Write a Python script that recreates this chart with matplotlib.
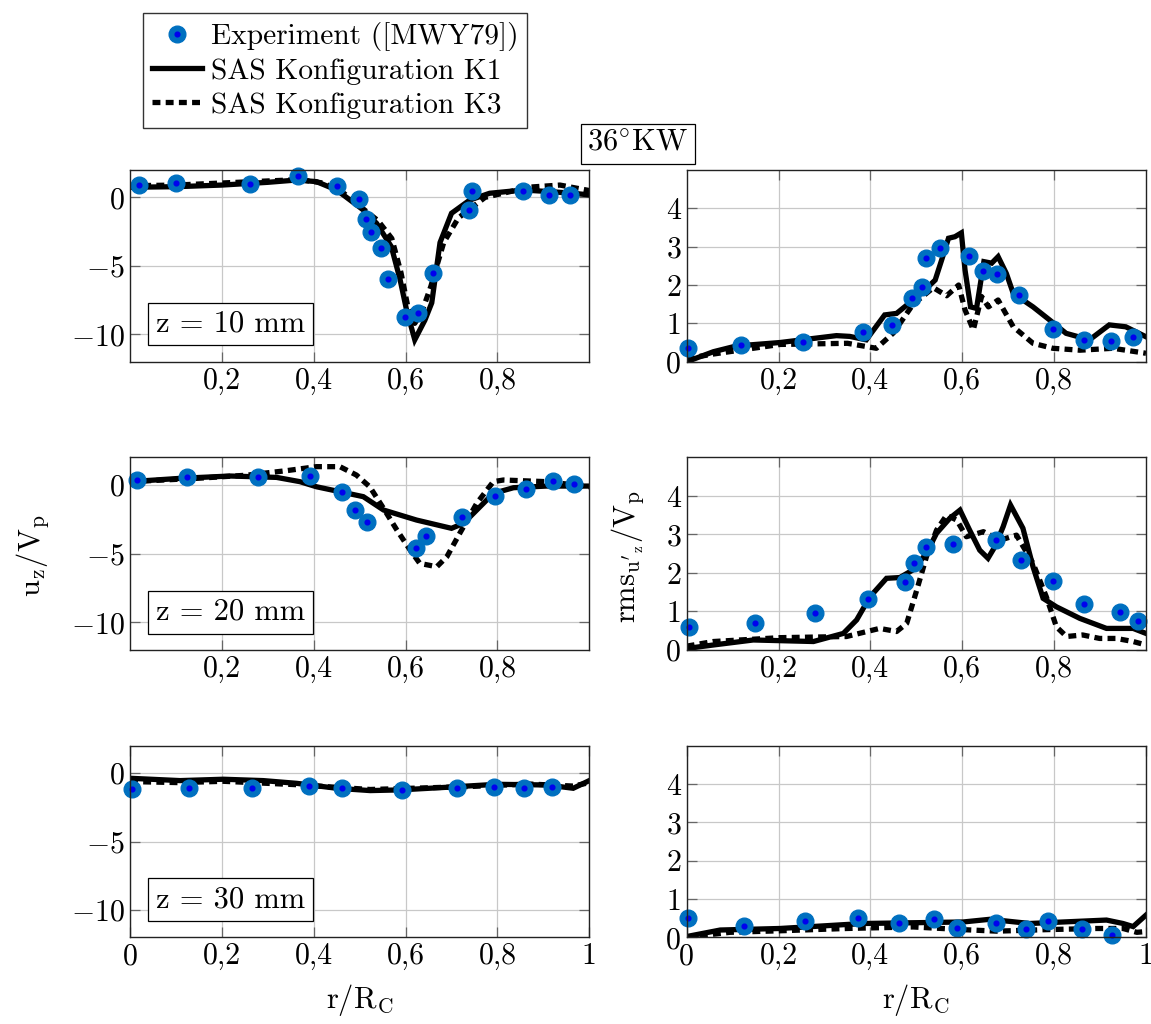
import matplotlib

matplotlib.use("Agg")
import matplotlib.pyplot as plt
from matplotlib.lines import Line2D

plt.rcParams["font.family"] = "serif"
plt.rcParams["font.serif"] = ["cmr10", "DejaVu Serif"]
plt.rcParams["mathtext.fontset"] = "cm"
plt.rcParams["axes.formatter.use_mathtext"] = True
plt.rcParams["font.size"] = 21

# ---- data ----
# z = 10 mm, axial velocity
exp_u10_r = [0.02, 0.10, 0.262, 0.365, 0.451, 0.499, 0.514, 0.524, 0.546, 0.561, 0.599, 0.626, 0.659, 0.739, 0.744, 0.855, 0.913, 0.958]
exp_u10 = [0.9, 1.03, 0.95, 1.56, 0.86, -0.12, -1.55, -2.55, -3.67, -5.96, -8.71, -8.42, -5.55, -0.92, 0.47, 0.47, 0.18, 0.18]
k1_u10_r = [0.0, 0.10, 0.2, 0.3, 0.363, 0.406, 0.45, 0.508, 0.537, 0.569, 0.588, 0.602, 0.620, 0.642, 0.657, 0.675, 0.70, 0.74, 0.783, 0.856, 0.914, 0.965, 1.0]
k1_u10 = [0.74, 0.78, 0.9, 1.1, 1.27, 1.15, 0.54, -0.92, -1.9, -3.6, -6.0, -8.2, -10.4, -8.97, -7.7, -3.3, -1.16, -0.19, 0.3, 0.54, 0.42, 0.3, 0.18]
k3_u10_r = [0.0, 0.10, 0.2, 0.3, 0.37, 0.42, 0.46, 0.51, 0.54, 0.57, 0.59, 0.605, 0.62, 0.635, 0.655, 0.683, 0.715, 0.773, 0.87, 0.936, 1.0]
k3_u10 = [0.85, 0.9, 1.05, 1.2, 1.3, 1.05, 0.45, -0.9, -1.7, -3.0, -5.5, -8.0, -9.2, -8.4, -6.5, -3.3, -1.5, 0.0, 0.75, 0.9, 0.5]

# z = 10 mm, rms
exp_r10_r = [0.003, 0.118, 0.254, 0.383, 0.448, 0.491, 0.513, 0.521, 0.552, 0.614, 0.646, 0.675, 0.723, 0.797, 0.864, 0.924, 0.972]
exp_r10 = [0.37, 0.43, 0.52, 0.77, 0.97, 1.67, 1.94, 2.70, 2.96, 2.76, 2.37, 2.29, 1.74, 0.85, 0.57, 0.54, 0.65]
k1_r10_r = [0.0, 0.058, 0.108, 0.203, 0.326, 0.355, 0.391, 0.431, 0.457, 0.493, 0.515, 0.541, 0.555, 0.57, 0.584, 0.598, 0.606, 0.618, 0.631, 0.647, 0.664, 0.678, 0.696, 0.711, 0.754, 0.790, 0.826, 0.877, 0.92, 0.956, 1.0]
k1_r10 = [0.0, 0.26, 0.41, 0.5, 0.68, 0.66, 0.57, 1.22, 1.26, 1.61, 1.83, 2.13, 2.65, 3.22, 3.26, 3.36, 2.39, 1.43, 1.39, 2.61, 2.57, 2.74, 2.30, 1.78, 1.43, 1.09, 0.74, 0.57, 0.96, 0.91, 0.65]
k3_r10_r = [0.0, 0.058, 0.203, 0.35, 0.413, 0.45, 0.493, 0.537, 0.566, 0.592, 0.606, 0.624, 0.642, 0.657, 0.678, 0.711, 0.754, 0.797, 0.856, 0.928, 1.0]
k3_r10 = [0.08, 0.2, 0.45, 0.48, 0.35, 0.75, 1.5, 1.93, 1.72, 2.0, 1.35, 0.83, 1.7, 1.43, 1.61, 0.91, 0.48, 0.35, 0.3, 0.35, 0.22]

# z = 20 mm, axial velocity
exp_u20_r = [0.016, 0.125, 0.278, 0.392, 0.462, 0.490, 0.515, 0.622, 0.644, 0.723, 0.795, 0.863, 0.92, 0.967]
exp_u20 = [0.35, 0.59, 0.54, 0.64, -0.55, -1.83, -2.68, -4.62, -3.72, -2.32, -0.79, -0.31, 0.28, 0.03]
k1_u20_r = [0.0, 0.109, 0.218, 0.319, 0.37, 0.406, 0.508, 0.552, 0.624, 0.70, 0.726, 0.755, 0.791, 0.835, 0.907, 1.0]
k1_u20 = [0.23, 0.47, 0.64, 0.54, 0.23, -0.14, -0.86, -1.83, -2.56, -3.16, -2.8, -1.83, -0.62, -0.21, -0.09, -0.09]
k3_u20_r = [0.0, 0.145, 0.254, 0.341, 0.406, 0.457, 0.493, 0.522, 0.552, 0.581, 0.61, 0.631, 0.668, 0.69, 0.718, 0.755, 0.791, 0.813, 0.907, 1.0]
k3_u20 = [0.23, 0.47, 0.7, 1.03, 1.32, 1.32, 0.71, -0.14, -1.71, -3.28, -4.74, -5.71, -5.95, -5.22, -3.52, -1.34, 0.23, 0.35, 0.23, -0.14]

# z = 20 mm, rms
exp_r20_r = [0.004, 0.149, 0.28, 0.394, 0.475, 0.495, 0.52, 0.58, 0.673, 0.728, 0.797, 0.866, 0.943, 0.983]
exp_r20 = [0.60, 0.69, 0.95, 1.32, 1.77, 2.27, 2.68, 2.74, 2.85, 2.34, 1.80, 1.19, 0.98, 0.76]
k1_r20_r = [0.0, 0.058, 0.145, 0.276, 0.341, 0.37, 0.399, 0.435, 0.464, 0.493, 0.522, 0.544, 0.573, 0.595, 0.616, 0.638, 0.656, 0.671, 0.689, 0.705, 0.732, 0.754, 0.776, 0.805, 0.856, 0.914, 0.972, 1.0]
k1_r20 = [0.04, 0.13, 0.26, 0.22, 0.43, 0.78, 1.38, 1.86, 1.88, 2.08, 2.51, 3.03, 3.42, 3.63, 3.11, 2.59, 2.38, 2.68, 3.20, 3.76, 3.16, 2.16, 1.34, 1.12, 0.82, 0.56, 0.56, 0.43]
k3_r20_r = [0.0, 0.058, 0.203, 0.348, 0.42, 0.457, 0.479, 0.501, 0.522, 0.544, 0.566, 0.588, 0.609, 0.646, 0.682, 0.718, 0.754, 0.783, 0.805, 0.827, 0.862, 0.899, 0.935, 0.972, 1.0]
k3_r20 = [0.1, 0.22, 0.32, 0.35, 0.56, 0.48, 0.69, 1.56, 2.42, 3.11, 3.50, 3.37, 2.94, 3.07, 2.85, 2.98, 2.25, 1.38, 0.60, 0.35, 0.39, 0.30, 0.30, 0.22, 0.13]

# z = 30 mm, axial velocity
exp_u30_r = [0.004, 0.128, 0.265, 0.39, 0.461, 0.592, 0.713, 0.793, 0.858, 0.918]
exp_u30 = [-1.19, -1.07, -1.11, -0.92, -1.07, -1.23, -1.11, -0.99, -1.11, -1.04]
k1_u30_r = [0.0, 0.109, 0.203, 0.29, 0.363, 0.45, 0.523, 0.588, 0.689, 0.798, 0.907, 0.965, 1.0]
k1_u30 = [-0.38, -0.55, -0.45, -0.55, -0.75, -1.11, -1.28, -1.23, -1.04, -0.82, -0.87, -1.11, -0.55]
k3_u30_r = [0.0, 0.109, 0.203, 0.363, 0.523, 0.725, 0.87, 0.965, 1.0]
k3_u30 = [-0.62, -0.7, -0.6, -0.85, -1.2, -1.0, -0.8, -0.95, -0.7]

# z = 30 mm, rms
exp_r30_r = [0.002, 0.125, 0.258, 0.374, 0.462, 0.539, 0.588, 0.673, 0.738, 0.786, 0.86, 0.925]
exp_r30 = [0.51, 0.29, 0.43, 0.50, 0.37, 0.47, 0.25, 0.37, 0.22, 0.42, 0.21, 0.06]
k1_r30_r = [0.0, 0.073, 0.203, 0.384, 0.493, 0.602, 0.66, 0.747, 0.82, 0.914, 0.95, 0.972, 1.0]
k1_r30 = [0.02, 0.19, 0.23, 0.36, 0.38, 0.40, 0.47, 0.36, 0.40, 0.45, 0.36, 0.28, 0.58]
k3_r30_r = [0.0, 0.094, 0.203, 0.348, 0.493, 0.602, 0.675, 0.783, 0.892, 0.95, 0.98, 1.0]
k3_r30 = [0.0, 0.13, 0.17, 0.23, 0.27, 0.2, 0.16, 0.2, 0.23, 0.23, 0.13, 0.15]

z_labels = ["z = 10 mm", "z = 20 mm", "z = 30 mm"]
x_ticks_inner = [0.2, 0.4, 0.6, 0.8]
x_ticks_outer = [0, 0.2, 0.4, 0.6, 0.8, 1.0]
x_labels_outer = ["0", "0,2", "0,4", "0,6", "0,8", "1"]

rows = [
    (exp_u10_r, exp_u10, k1_u10_r, k1_u10, k3_u10_r, k3_u10,
     exp_r10_r, exp_r10, k1_r10_r, k1_r10, k3_r10_r, k3_r10),
    (exp_u20_r, exp_u20, k1_u20_r, k1_u20, k3_u20_r, k3_u20,
     exp_r20_r, exp_r20, k1_r20_r, k1_r20, k3_r20_r, k3_r20),
    (exp_u30_r, exp_u30, k1_u30_r, k1_u30, k3_u30_r, k3_u30,
     exp_r30_r, exp_r30, k1_r30_r, k1_r30, k3_r30_r, k3_r30),
]

OUTER = "#0070c0"
INNER = "#0000ee"
LW = 3.8
DASH = (1.5, 1.0)
FS = 21.5

W, H = 1151, 1024
fig = plt.figure(figsize=(W / 100, H / 100), dpi=100)


def px_axes(x0, y0, x1, y1):
    return fig.add_axes([x0 / W, 1 - y1 / H, (x1 - x0) / W, (y1 - y0) / H])


def style(ax):
    ax.grid(True, color="#c8c8c8", lw=0.9)
    ax.set_axisbelow(True)
    ax.tick_params(direction="in", length=7, width=0.9, color="#666666",
                   top=True, right=True, labelsize=FS, pad=4)
    for s in ax.spines.values():
        s.set_linewidth(1.0)
        s.set_color("#222222")


def draw(ax, er, ev, r1, v1, r3, v3):
    ax.plot(r1, v1, color="black", lw=LW, solid_joinstyle="miter")
    ax.plot(r3, v3, color="black", lw=LW, ls=(0, DASH), dash_capstyle="butt")
    ax.plot(er, ev, ls="none", marker="o", ms=12, mfc=OUTER, mec=OUTER, clip_on=False)
    ax.plot(er, ev, ls="none", marker="o", ms=3.4, mfc=INNER, mec=INNER, clip_on=False)


row_y = [(170, 361.7), (457.3, 650), (745.7, 937.3)]
for i, (y0, y1) in enumerate(row_y):
    d = rows[i]
    axl = px_axes(130, y0, 589.3, y1)
    axr = px_axes(686.7, y0, 1146, y1)
    draw(axl, *d[:6])
    draw(axr, *d[6:])
    for ax in (axl, axr):
        style(ax)
        ax.set_xlim(0, 1)
        if i < 2:
            ax.set_xticks(x_ticks_inner)
            ax.set_xticklabels(x_labels_outer[1:5])
        else:
            ax.set_xticks(x_ticks_outer)
            ax.set_xticklabels(x_labels_outer)
    axl.set_ylim(-12, 2)
    axl.set_yticks([-10, -5, 0])
    axl.set_yticklabels([r"$-10$", r"$-5$", r"$0$"])
    axr.set_ylim(0, 5)
    axr.set_yticks([0, 1, 2, 3, 4])
    axr.set_yticklabels(["0", "1", "2", "3", "4"])
    axl.text(0.219, 0.196, z_labels[i], transform=axl.transAxes, ha="center", va="center",
             fontsize=22, bbox=dict(boxstyle="square,pad=0.25", fc="white", ec="black", lw=0.9))

fig.text(33 / W, 1 - 556 / H, r"$\mathrm{u_z/V_p}$", rotation=90, ha="center", va="center", fontsize=22)
fig.text(628 / W, 1 - 557 / H, r"$\mathrm{rms}_{\mathrm{u'}_{\mathrm{z}}}/\mathrm{V_p}$", rotation=90,
         ha="center", va="center", fontsize=22)
fig.text(360 / W, 1 - 1000 / H, r"$\mathrm{r/R_C}$", ha="center", va="center", fontsize=22)
fig.text(916 / W, 1 - 1000 / H, r"$\mathrm{r/R_C}$", ha="center", va="center", fontsize=22)
fig.text(638 / W, 1 - 144 / H, r"$\mathrm{36^{\circ}KW}$", ha="center", va="center", fontsize=22,
         bbox=dict(boxstyle="square,pad=0.22", fc="white", ec="black", lw=0.9))

h_exp = (Line2D([], [], ls="none", marker="o", ms=12, mfc=OUTER, mec=OUTER),
         Line2D([], [], ls="none", marker="o", ms=3.4, mfc=INNER, mec=INNER))
h_k1 = Line2D([], [], color="black", lw=LW)
h_k3 = Line2D([], [], color="black", lw=LW, ls=(0, DASH), dash_capstyle="butt")
fig.legend([h_exp, h_k1, h_k3],
           ["Experiment ([MWY79])", "SAS Konfiguration K1", "SAS Konfiguration K3"],
           loc="upper left", bbox_to_anchor=(143 / W, 1 - 13 / H), fontsize=21.2,
           fancybox=False, framealpha=1, edgecolor="#333333", handlelength=1.7,
           handletextpad=0.3, labelspacing=0.25, borderpad=0.3, borderaxespad=0)

fig.savefig("out.png", dpi=100)
